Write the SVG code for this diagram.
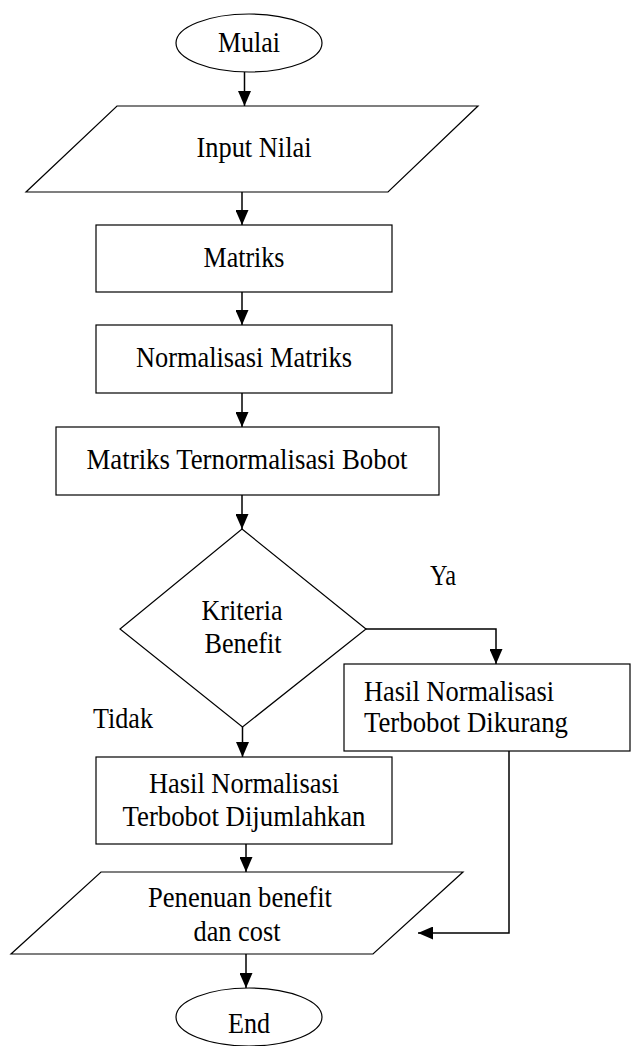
<svg xmlns="http://www.w3.org/2000/svg" width="631" height="1046" viewBox="0 0 631 1046">
<defs>
<marker id="ah" viewBox="0 0 15 13" refX="15" refY="6.5" markerWidth="15" markerHeight="13" markerUnits="userSpaceOnUse" orient="auto">
<path d="M0,0 L15,6.5 L0,13 Z" fill="#000"/>
</marker>
<style>
.s{fill:#fff;stroke:#000;stroke-width:1.2}
.t{font-size:29px;fill:#000}
.c{text-anchor:middle}
.e{fill:none;stroke:#000;stroke-width:1.5;marker-end:url(#ah)}
</style>
</defs>
<rect width="631" height="1046" fill="#fff"/>
<g id="connectors">
<path class="e" d="M244.5,72 V106"/>
<path class="e" d="M242,192 V225"/>
<path class="e" d="M242,292 V325"/>
<path class="e" d="M242,393 V427"/>
<path class="e" d="M242,495 V529"/>
<path class="e" d="M366,629 H496 V664"/>
<path class="e" d="M242.5,727 V757"/>
<path class="e" d="M246,844 V872"/>
<path class="e" d="M509,751 V933 H418"/>
<path class="e" d="M246,954 V988"/>
</g>
<g font-family="Liberation Serif, Times New Roman, serif">
<g id="mulai">
<ellipse class="s" cx="249" cy="43" rx="73" ry="29"/>
<text class="t c" x="249" y="52" textLength="62" lengthAdjust="spacingAndGlyphs">Mulai</text>
</g>
<g id="input-nilai">
<polygon class="s" points="117,106 478,106 388,192 26,192"/>
<text class="t c" x="254" y="157" textLength="115" lengthAdjust="spacingAndGlyphs">Input Nilai</text>
</g>
<g id="matriks">
<rect class="s" x="96" y="225" width="296" height="67"/>
<text class="t c" x="244" y="267" textLength="81" lengthAdjust="spacingAndGlyphs">Matriks</text>
</g>
<g id="normalisasi">
<rect class="s" x="96" y="325" width="296" height="68"/>
<text class="t c" x="244" y="367" textLength="216" lengthAdjust="spacingAndGlyphs">Normalisasi Matriks</text>
</g>
<g id="matriks-ternormalisasi">
<rect class="s" x="56" y="427" width="383" height="68"/>
<text class="t c" x="247" y="469" textLength="321" lengthAdjust="spacingAndGlyphs">Matriks Ternormalisasi Bobot</text>
</g>
<g id="kriteria">
<polygon class="s" points="242,529 366,629 242.5,727 120,629"/>
<text class="t c" x="242" y="620" textLength="81" lengthAdjust="spacingAndGlyphs">Kriteria</text>
<text class="t c" x="243" y="653" textLength="77" lengthAdjust="spacingAndGlyphs">Benefit</text>
</g>
<g id="label-ya"><text class="t" x="430" y="585" textLength="26" lengthAdjust="spacingAndGlyphs">Ya</text></g>
<g id="label-tidak"><text class="t" x="93" y="728" textLength="60" lengthAdjust="spacingAndGlyphs">Tidak</text></g>
<g id="dikurang">
<rect class="s" x="344" y="664" width="286" height="87"/>
<text class="t" x="364" y="701" textLength="190" lengthAdjust="spacingAndGlyphs">Hasil Normalisasi</text>
<text class="t" x="364" y="732" textLength="204" lengthAdjust="spacingAndGlyphs">Terbobot Dikurang</text>
</g>
<g id="dijumlahkan">
<rect class="s" x="96" y="757" width="296" height="87"/>
<text class="t c" x="244" y="793" textLength="190" lengthAdjust="spacingAndGlyphs">Hasil Normalisasi</text>
<text class="t c" x="244" y="826" textLength="243" lengthAdjust="spacingAndGlyphs">Terbobot Dijumlahkan</text>
</g>
<g id="penentuan">
<polygon class="s" points="101,872 463,872 373,954 11,954"/>
<text class="t c" x="240" y="907" textLength="184" lengthAdjust="spacingAndGlyphs">Penenuan benefit</text>
<text class="t c" x="237" y="941" textLength="87" lengthAdjust="spacingAndGlyphs">dan cost</text>
</g>
<g id="end">
<ellipse class="s" cx="249" cy="1017" rx="73" ry="29"/>
<text class="t c" x="249" y="1033" textLength="42" lengthAdjust="spacingAndGlyphs">End</text>
</g>
</g>
</svg>
